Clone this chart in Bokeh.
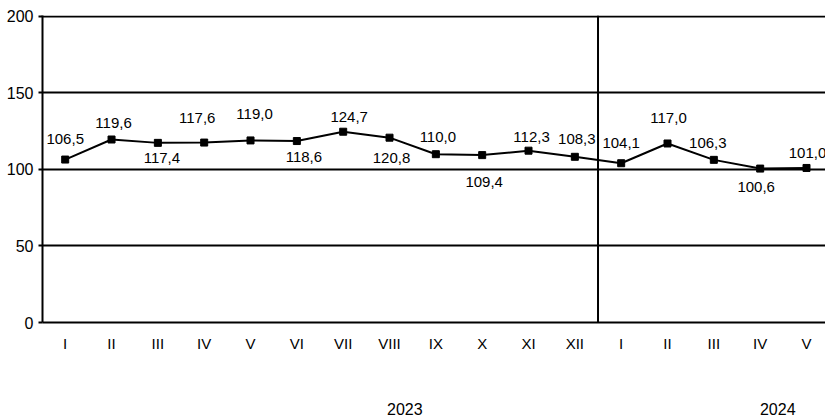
from bokeh.plotting import figure
from bokeh.models import ColumnDataSource, FixedTicker, Range1d, Span, LinearAxis
from bokeh.core.properties import value
from bokeh.embed import file_html
from bokeh.resources import INLINE

# ---- data ----
months = ["I", "II", "III", "IV", "V", "VI", "VII", "VIII", "IX", "X", "XI", "XII",
          "I", "II", "III", "IV", "V"]
values = [106.5, 119.6, 117.4, 117.6, 119.0, 118.6, 124.7, 120.8, 110.0, 109.4,
          112.3, 108.3, 104.1, 117.0, 106.3, 100.6, 101.0]
years = ["2023", "2024"]
y_ticks = [0, 50, 100, 150, 200]

# ---- layout / style (pixel offsets of the value labels) ----
label_dx = [0, 2, 4, -7, 4, 7, 6, 2, 2, 2, 3, 2, 0, 1, -6, -4, 1]
label_dy = [-21, -17, 15, -25, -26, 16, -15, 20, -17, 27, -14, -18, -20, -25, -17, 18, -15]
year_x = [7.33, 15.38]

FONT = "Liberation Sans"

xs = list(range(len(values)))
labels = [f"{v:.1f}".replace(".", ",") for v in values]
src = ColumnDataSource(dict(x=xs, y=values, lab=labels, dx=label_dx, dy=label_dy))

p = figure(width=825, height=417, output_backend="svg", toolbar_location=None,
           x_range=Range1d(-0.49, 16.41), y_range=Range1d(0, 200.65),
           min_border_left=42, min_border_right=0, min_border_top=15, min_border_bottom=95)
p.outline_line_color = None
p.background_fill_color = "white"
p.border_fill_color = "white"

# grid
p.xgrid.grid_line_color = None
p.ygrid.ticker = FixedTicker(ticks=[50, 100, 150, 200])
p.ygrid.grid_line_color = "black"
p.ygrid.grid_line_width = 2

# y axis
p.yaxis.ticker = FixedTicker(ticks=y_ticks)
p.yaxis.axis_line_color = "black"
p.yaxis.axis_line_width = 2
p.yaxis.major_tick_in = 0
p.yaxis.major_tick_out = 4
p.yaxis.major_tick_line_width = 2
p.yaxis.minor_tick_line_color = None
p.yaxis.major_label_text_font = FONT
p.yaxis.major_label_text_font_size = "16px"
p.yaxis.major_label_text_color = "black"
p.yaxis.major_label_standoff = 5

# x axis (months)
p.xaxis.ticker = FixedTicker(ticks=xs)
p.xaxis.major_label_overrides = {i: m for i, m in enumerate(months)}
p.xaxis.axis_line_color = "black"
p.xaxis.axis_line_width = 2
p.xaxis.major_tick_in = 0
p.xaxis.major_tick_out = 0
p.xaxis.major_tick_line_color = None
p.xaxis.minor_tick_line_color = None
p.xaxis.major_label_text_font = FONT
p.xaxis.major_label_text_font_size = "15px"
p.xaxis.major_label_text_color = "black"
p.xaxis.major_label_standoff = 12

# second axis (years)
yax = LinearAxis(ticker=FixedTicker(ticks=year_x),
                 major_label_overrides={x: y for x, y in zip(year_x, years)})
yax.axis_line_color = None
yax.major_tick_in = 0
yax.major_tick_out = 0
yax.major_tick_line_color = None
yax.minor_tick_line_color = None
yax.major_label_text_font = FONT
yax.major_label_text_font_size = "16px"
yax.major_label_text_color = "black"
yax.major_label_standoff = 48
p.add_layout(yax, "below")

# separator between years
p.add_layout(Span(location=11.5, dimension="height", line_color="black", line_width=2))

# series
p.line("x", "y", source=src, line_color="black", line_width=2)
p.scatter("x", "y", source=src, marker="square", size=7, fill_color="black", line_color="black")
p.text("x", "y", text="lab", source=src, x_offset="dx", y_offset="dy",
       text_font=value(FONT), text_font_size="15px", text_color="black",
       text_align="center", text_baseline="middle")

open("out.html", "w").write(file_html(p, INLINE))
